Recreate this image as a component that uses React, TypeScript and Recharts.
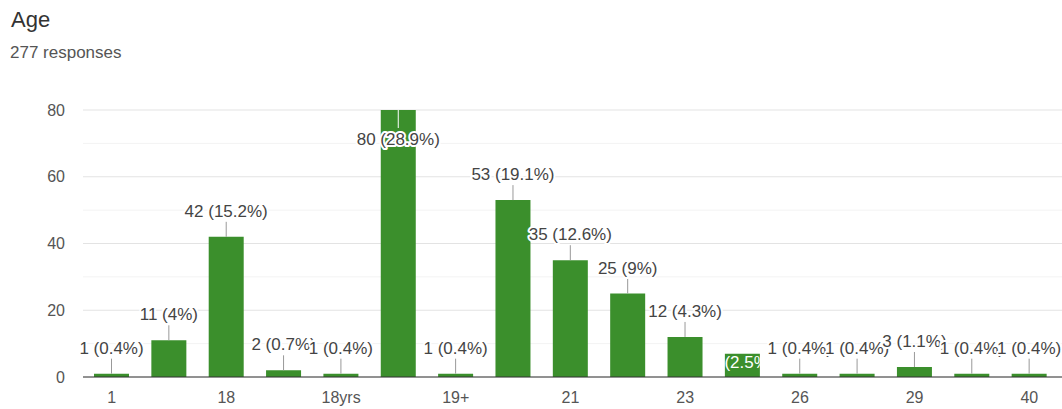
import React from "react";
import { BarChart, Bar, XAxis, YAxis, CartesianGrid, LabelList } from "recharts";

const categories = ["1", "17", "18", "18+", "18yrs", "19", "19+", "20", "21", "22", "23", "24", "26", "27", "29", "30", "40"];
const counts = [1, 11, 42, 2, 1, 80, 1, 53, 35, 25, 12, 7, 1, 1, 3, 1, 1];
const percents = ["0.4%", "4%", "15.2%", "0.7%", "0.4%", "28.9%", "0.4%", "19.1%", "12.6%", "9%", "4.3%", "2.5%", "0.4%", "0.4%", "1.1%", "0.4%", "0.4%"];
const yTicks = [0, 20, 40, 60, 80];
const minorTicks = [10, 30, 50, 70];
const insideLabelCategories = ["24"];

const data = categories.map((c, i) => ({
  category: c,
  count: counts[i],
  label: `${counts[i]} (${percents[i]})`,
  inside: insideLabelCategories.includes(c),
}));

const FONT = "'Liberation Sans', Arial, sans-serif";
const TOP = 110;
const GREEN = "#3b8f2c";

function BarLabel(props: any) {
  const vb = props.viewBox || {};
  const x = Number(props.x ?? vb.x);
  const y = Number(props.y ?? vb.y);
  const width = Number(props.width ?? vb.width);
  const height = Number(props.height ?? vb.height);
  const index = props.index;
  const entry = data[index];
  if (!entry) return null;
  const cx = x + width / 2;
  if (entry.inside) {
    const id = `clip-lbl-${index}`;
    return (
      <g>
        <defs>
          <clipPath id={id}>
            <rect x={x} y={y} width={width} height={height} />
          </clipPath>
        </defs>
        <text x={cx} y={y + 14} textAnchor="middle" fontSize={17} fontFamily={FONT} fill="#ffffff" clipPath={`url(#${id})`}>
          {entry.label}
        </text>
      </g>
    );
  }
  if (y - 32 < TOP) {
    return (
      <g>
        <line x1={cx} x2={cx} y1={y} y2={y + 18} stroke="#ffffff" strokeWidth={1} />
        <text x={cx} y={y + 35} textAnchor="middle" fontSize={17} fontFamily={FONT} fill="#444" stroke="#ffffff" strokeWidth={4} strokeLinejoin="round" paintOrder="stroke">
          {entry.label}
        </text>
      </g>
    );
  }
  return (
    <g>
      <line x1={cx} x2={cx} y1={y} y2={y - 15} stroke="#999" strokeWidth={1} />
      <text x={cx} y={y - 20} textAnchor="middle" fontSize={17} fontFamily={FONT} fill="#444" stroke="#ffffff" strokeWidth={4} strokeLinejoin="round" paintOrder="stroke">
        {entry.label}
      </text>
    </g>
  );
}

export default function App() {
  return (
    <div style={{ position: "absolute", left: 0, top: 0, width: 1062, height: 409, background: "#fff" }}>
      <svg style={{ position: "absolute", left: 0, top: 0 }} width={400} height={70}>
        <text x={11} y={27} fontSize={22} fontFamily={FONT} fill="#333">Age</text>
        <text x={10} y={58} fontSize={17} fontFamily={FONT} fill="#555">277 responses</text>
      </svg>
      <div style={{ position: "absolute", left: 0, top: 0 }}>
        <BarChart
          width={1062}
          height={409}
          data={data}
          margin={{ top: TOP, right: 0, bottom: 0, left: 0 }}
          barSize={35}
        >
          <CartesianGrid vertical={false} horizontalValues={minorTicks} stroke="#f3f3f3" />
          <CartesianGrid vertical={false} horizontalValues={yTicks} stroke="#e3e3e3" />
          <XAxis
            dataKey="category"
            interval={1}
            height={32}
            tickSize={0}
            tickMargin={15}
            padding={{ left: 0, right: 4 }}
            axisLine={{ stroke: "#333" }}
            tickLine={false}
            tick={{ fontSize: 16, fontFamily: FONT, fill: "#555" }}
          />
          <YAxis
            width={83}
            domain={[0, 80]}
            ticks={yTicks}
            tickSize={0}
            tickMargin={18}
            axisLine={false}
            tickLine={false}
            tick={{ fontSize: 16, fontFamily: FONT, fill: "#555" }}
          />
          <Bar dataKey="count" fill={GREEN} isAnimationActive={false}>
            <LabelList dataKey="label" content={<BarLabel />} />
          </Bar>
        </BarChart>
      </div>
    </div>
  );
}
